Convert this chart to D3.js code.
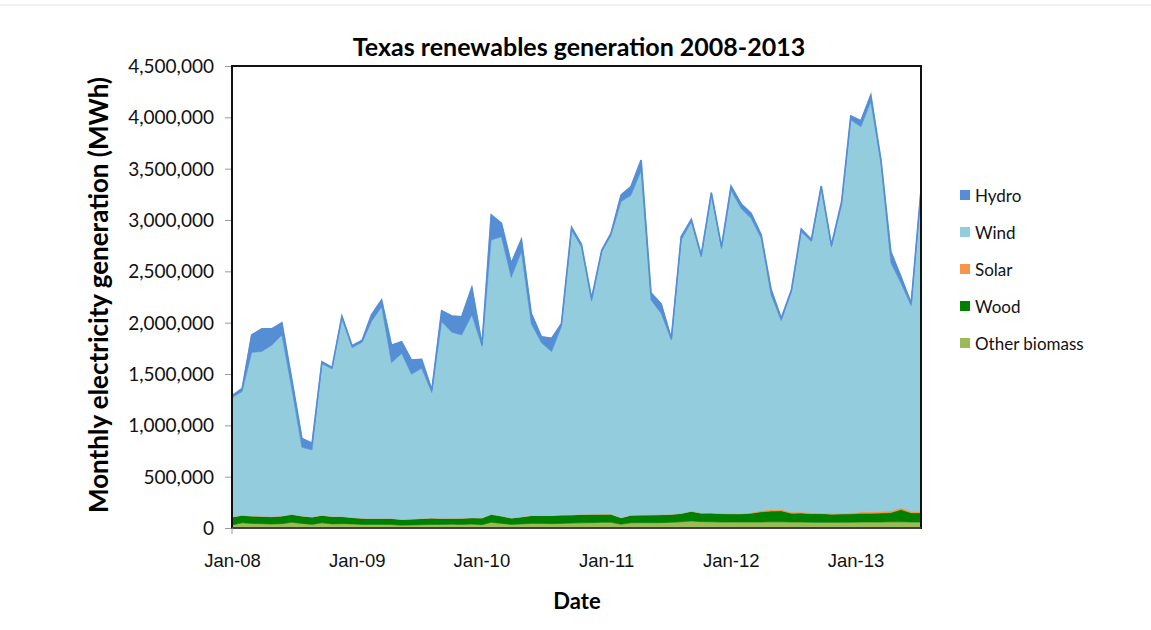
<!DOCTYPE html>
<html>
<head>
<meta charset="utf-8">
<script src="https://cdn.jsdelivr.net/npm/d3@7"></script>
<style>
  html, body { margin: 0; padding: 0; background: #fff; }
  svg { display: block; font-family: Lato, "Open Sans", sans-serif; }
</style>
</head>
<body>
<svg id="chart" width="1151" height="630"></svg>
<script>
// Monthly generation in Texas, MWh, Jan 2008 – Oct 2013
const startMonth = "2008-01";
const monthCount = 70;

const otherBiomass = [
  30000, 50000, 45000, 42000, 38000, 42000, 55000, 45000, 35000, 50000, 40000, 42000,
  40000, 35000, 35000, 35000, 33000, 28000, 30000, 32000, 35000, 35000, 37000, 35000,
  38000, 32000, 55000, 45000, 35000, 40000, 45000, 45000, 42000, 45000, 48000, 50000,
  52000, 55000, 55000, 36000, 50000, 52000, 52000, 52000, 55000, 60000, 68000, 62000,
  60000, 58000, 58000, 58000, 58000, 58000, 60000, 60000, 58000, 58000, 56000, 55000,
  55000, 56000, 56000, 58000, 58000, 58000, 60000, 60000, 58000, 58000
];
const wood = [
  77000, 74000, 72000, 72000, 72000, 75000, 78000, 72000, 72000, 74000, 72000, 70000,
  62000, 60000, 57000, 57000, 60000, 55000, 57000, 60000, 62000, 58000, 57000, 60000,
  62000, 66000, 78000, 72000, 62000, 68000, 76000, 76000, 79000, 82000, 80000, 82000,
  82000, 80000, 80000, 64000, 75000, 75000, 76000, 78000, 78000, 82000, 95000, 83000,
  85000, 82000, 80000, 80000, 85000, 100000, 105000, 108000, 85000, 87000, 84000, 85000,
  80000, 80000, 82000, 85000, 85000, 88000, 90000, 120000, 90000, 90000
];
const solar = [
  1000, 1000, 1000, 1000, 1000, 1000, 1000, 1000, 1000, 1000, 1000, 1000,
  1000, 1000, 1000, 1000, 1000, 1000, 1000, 1000, 1000, 1000, 1000, 1000,
  1000, 1000, 1000, 1000, 1000, 1000, 1000, 1000, 1000, 1000, 1000, 1000,
  1000, 1000, 1000, 1000, 1000, 1000, 1000, 1000, 1000, 1000, 1000, 1000,
  3000, 3000, 3000, 3000, 8000, 12000, 15000, 15000, 12000, 10000, 10000, 8000,
  8000, 10000, 12000, 14000, 15000, 16000, 16000, 18000, 16000, 14000
];
const wind = [
  1162000, 1205000, 1592000, 1605000, 1669000, 1762000, 1226000, 668000, 652000, 1475000, 1437000, 1927000,
  1653000, 1714000, 1917000, 2062000, 1516000, 1616000, 1409000, 1462000, 1220000, 1916000, 1811000, 1784000,
  1974000, 1671000, 2671000, 2719000, 2342000, 2581000, 1868000, 1683000, 1595000, 1832000, 2771000, 2607000,
  2075000, 2554000, 2714000, 3079000, 3114000, 3352000, 2091000, 1959000, 1696000, 2662000, 2816000, 2494000,
  3095000, 2577000, 3149000, 2969000, 2865000, 2650000, 2090000, 1837000, 2145000, 2731000, 2640000, 3162000,
  2592000, 3000000, 3824000, 3752000, 3994000, 3390000, 2418000, 2185000, 2001000, 3108000
];
const hydro = [
  16000, 30000, 170000, 220000, 160000, 120000, 90000, 87000, 65000, 20000, 15000, 25000,
  20000, 20000, 65000, 65000, 170000, 115000, 139000, 88000, 26000, 107000, 159000, 178000,
  269000, 15000, 244000, 131000, 138000, 120000, 100000, 58000, 130000, 30000, 29000, 23000,
  27000, 18000, 20000, 63000, 85000, 104000, 70000, 92000, 17000, 33000, 26000, 19000,
  23000, 20000, 41000, 46000, 49000, 34000, 55000, 22000, 18000, 26000, 20000, 21000,
  21000, 32000, 39000, 58000, 65000, 32000, 107000, 65000, 23000, 22000
];

const seriesNames = ["Other biomass", "Wood", "Solar", "Wind", "Hydro"];
const seriesColors = ["#9BBB59", "#008000", "#F79646", "#93CDDD", "#558ED5"];
const yTicks = [0, 500000, 1000000, 1500000, 2000000, 2500000, 3000000, 3500000, 4000000, 4500000];
const xTickLabels = ["Jan-08", "Jan-09", "Jan-10", "Jan-11", "Jan-12", "Jan-13"];

const svg = d3.select("#chart");
const W = 1151, H = 630;
const plotLeft = 232, plotRight = 921, plotTop = 66, plotBottom = 528;
const labelStep = 124.7; // spacing of the date labels along the axis

const parseMonth = d3.timeParse("%Y-%m");
const first = parseMonth(startMonth);
const months = d3.range(monthCount).map(i => d3.timeMonth.offset(first, i));

const rows = months.map((m, i) => ({
  date: m,
  "Other biomass": otherBiomass[i],
  "Wood": wood[i],
  "Solar": solar[i],
  "Wind": wind[i],
  "Hydro": hydro[i]
}));

const layers = d3.stack().keys(seriesNames)(rows);

const x = d3.scaleTime()
  .domain([months[0], months[months.length - 1]])
  .range([plotLeft, plotRight]);
const y = d3.scaleLinear().domain([0, 4500000]).range([plotBottom, plotTop]);

const area = d3.area()
  .x(d => x(d.data.date))
  .y0(d => y(d[0]))
  .y1(d => y(d[1]));

const plot = svg.append("g");
plot.selectAll("path.layer")
  .data(layers)
  .join("path")
  .attr("class", "layer")
  .attr("d", area)
  .attr("fill", (d, i) => seriesColors[i])
  .attr("stroke", (d, i) => seriesColors[i])
  .attr("stroke-width", 0.6);

// top edge of the hydro band
const topLine = d3.line().x(d => x(d.data.date)).y(d => y(d[1]));
plot.append("path")
  .attr("d", topLine(layers[4]))
  .attr("fill", "none")
  .attr("stroke", "#558ED5")
  .attr("stroke-width", 1.6);

// plot frame
svg.append("rect")
  .attr("x", plotLeft).attr("y", plotTop)
  .attr("width", plotRight - plotLeft).attr("height", plotBottom - plotTop)
  .attr("fill", "none")
  .attr("stroke", "#111")
  .attr("stroke-width", 2);
svg.append("line")
  .attr("x1", plotLeft).attr("x2", plotRight).attr("y1", plotBottom).attr("y2", plotBottom)
  .attr("stroke", "#404040").attr("stroke-width", 2);

// y axis
const yAxis = d3.axisLeft(y)
  .tickValues(yTicks)
  .tickFormat(d3.format(","))
  .tickSize(6)
  .tickPadding(11);
const gy = svg.append("g").attr("transform", `translate(${plotLeft - 1},0)`).call(yAxis);
gy.select(".domain").remove();
gy.selectAll(".tick line").attr("stroke", "#999");
gy.selectAll(".tick text")
  .attr("font-size", 19)
  .attr("fill", "#111")
  .attr("font-family", "Lato, sans-serif")
  .attr("dy", "0.34em");

// x axis labels
const xLabel = d3.scalePoint()
  .domain(xTickLabels)
  .range([plotLeft, plotLeft + labelStep * (xTickLabels.length - 1)]);
const xAxis = d3.axisBottom(xLabel)
  .tickSize(0)
  .tickPadding(26);
const gx = svg.append("g").attr("transform", `translate(0,${plotBottom})`).call(xAxis);
gx.select(".domain").remove();
gx.selectAll(".tick text")
  .attr("font-size", 18.5)
  .attr("fill", "#111");
svg.append("line")
  .attr("x1", plotLeft).attr("x2", plotLeft).attr("y1", plotBottom).attr("y2", plotBottom + 6)
  .attr("stroke", "#999");

// titles
svg.append("text")
  .attr("x", 579).attr("y", 56)
  .attr("text-anchor", "middle")
  .attr("font-size", 25).attr("font-weight", "bold")
  .attr("fill", "#000")
  .text("Texas renewables generation 2008-2013");

svg.append("text")
  .attr("transform", `translate(108,${(plotBottom + plotTop) / 2 - 2}) rotate(-90)`)
  .attr("text-anchor", "middle")
  .attr("font-size", 26).attr("font-weight", "bold")
  .attr("fill", "#000")
  .text("Monthly electricity generation (MWh)");

svg.append("text")
  .attr("x", 577).attr("y", 609)
  .attr("text-anchor", "middle")
  .attr("font-size", 22).attr("font-weight", "bold")
  .attr("fill", "#000")
  .text("Date");

// legend, top entry first
const legendOrder = ["Hydro", "Wind", "Solar", "Wood", "Other biomass"];
const legend = svg.append("g").attr("transform", "translate(960,197)");
legendOrder.forEach((name, i) => {
  const g = legend.append("g").attr("transform", `translate(0,${i * 37})`);
  g.append("rect")
    .attr("x", 0).attr("y", -7).attr("width", 10).attr("height", 10)
    .attr("fill", seriesColors[seriesNames.indexOf(name)]);
  g.append("text")
    .attr("x", 15).attr("y", 5)
    .attr("font-size", 17)
    .attr("fill", "#111")
    .text(name);
});

// thin rule across the top of the page
svg.append("line")
  .attr("x1", 0).attr("x2", W).attr("y1", 5).attr("y2", 5)
  .attr("stroke", "#e6e6e6");
</script>
</body>
</html>
